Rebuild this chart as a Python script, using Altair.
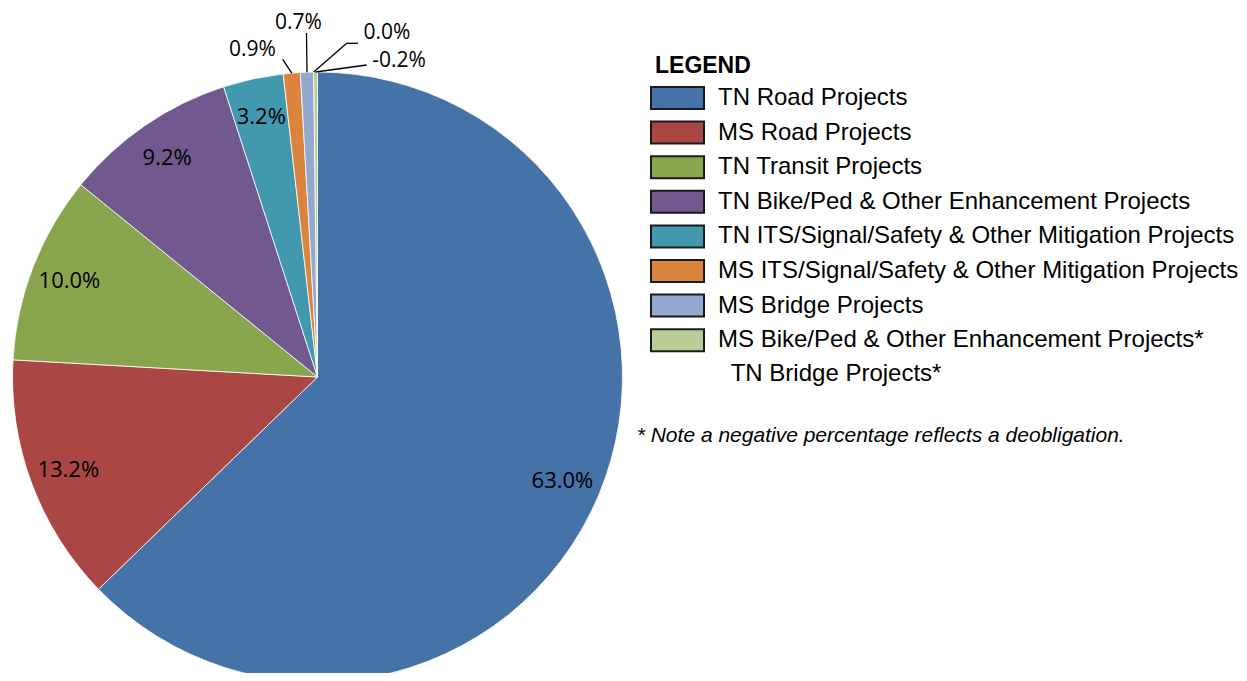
import math
import altair as alt
import pandas as pd

# ---- data ----
pie_categories = [
    "TN Road Projects",
    "MS Road Projects",
    "TN Transit Projects",
    "TN Bike/Ped & Other Enhancement Projects",
    "TN ITS/Signal/Safety & Other Mitigation Projects",
    "MS ITS/Signal/Safety & Other Mitigation Projects",
    "MS Bridge Projects",
    "TN Bridge Projects*",
    "MS Bike/Ped & Other Enhancement Projects*",
]
pie_percents = [63.0, 13.2, 10.0, 9.2, 3.2, 0.9, 0.7, 0.0, -0.2]

legend_categories = [
    "TN Road Projects",
    "MS Road Projects",
    "TN Transit Projects",
    "TN Bike/Ped & Other Enhancement Projects",
    "TN ITS/Signal/Safety & Other Mitigation Projects",
    "MS ITS/Signal/Safety & Other Mitigation Projects",
    "MS Bridge Projects",
    "MS Bike/Ped & Other Enhancement Projects*",
]
legend_colors = ["#4572A7", "#AA4643", "#89A54E", "#71588F",
                 "#4198AF", "#DB843D", "#93A9CF", "#B9CD96"]

extra_legend_text = "TN Bridge Projects*"
note_text = "* Note a negative percentage reflects a deobligation."
legend_title = "LEGEND"

# ---- layout (pixels, chart coordinates) ----
CX, CY, R = 309.5, 369.0, 305.0
R_IN = 266.0
# outside label anchors and leader-line ends for the tiny slices
outside_layout = {
    "MS ITS/Signal/Safety & Other Mitigation Projects": dict(tx=244.5, ty=41.5, ex=274.7, ey=51.3, hx=274.7),
    "MS Bridge Projects": dict(tx=290.5, ty=14.5, ex=298.5, ey=25.0, hx=298.5),
    "TN Bridge Projects*": dict(tx=379.0, ty=25.0, ex=338.7, ey=35.3, hx=350.0),
    "MS Bike/Ped & Other Enhancement Projects*": dict(tx=391.0, ty=53.0, ex=358.7, ey=57.0, hx=358.7),
}

rows = []
for i, (c, p) in enumerate(zip(pie_categories, pie_percents)):
    lay = outside_layout.get(c, {})
    rows.append(dict(
        idx=i, cat=c, pct=p, size=abs(p), label=f"{p:.1f}%",
        outside=c in outside_layout,
        tx=lay.get("tx", 0.0), ty=lay.get("ty", 0.0),
        ex=lay.get("ex", 0.0), ey=lay.get("ey", 0.0), hx=lay.get("hx", 0.0),
    ))
df = pd.DataFrame(rows)

base = alt.Chart(df).transform_joinaggregate(
    total="sum(size)"
).transform_window(
    cum="sum(size)", sort=[alt.SortField("idx")], frame=[None, 0]
).transform_calculate(
    mid=f"(datum.cum - datum.size/2) / datum.total * 2 * PI",
).transform_calculate(
    in_x=f"{CX} + {R_IN} * sin(datum.mid)",
    in_y=f"{CY} - {R_IN} * cos(datum.mid)",
    edge_x=f"{CX} + {R} * sin(datum.mid)",
    edge_y=f"{CY} - {R} * cos(datum.mid)",
)

arcs = alt.Chart(df).transform_filter("datum.size > 0").mark_arc(
    radius=R, stroke="white", strokeWidth=0.8
).encode(
    theta=alt.Theta("size:Q", stack=True),
    order=alt.Order("idx:Q"),
    color=alt.Color(
        "cat:N",
        scale=alt.Scale(domain=legend_categories, range=legend_colors),
        legend=alt.Legend(
            title=None, orient="none", legendX=657.5, legendY=78,
            direction="vertical",
            symbolType="M-2.41,-1H2.41V1H-2.41Z", symbolSize=484,
            symbolStrokeColor="#1b1b1b", symbolStrokeWidth=2, symbolOpacity=1,
            labelFont="Liberation Sans", labelFontSize=24, labelColor="#000000",
            labelOffset=28.5, labelLimit=700, rowPadding=4.6, padding=0,
        ),
    ),
    x=alt.value(CX),
    y=alt.value(CY),
)

inside_labels = base.transform_filter("!datum.outside").mark_text(
    font="Open Sans", fontSize=22, color="#000000", align="center", baseline="middle"
).encode(
    x=alt.X("in_x:Q", scale=None),
    y=alt.Y("in_y:Q", scale=None),
    text="label:N",
)

leaders = base.transform_filter("datum.outside").mark_rule(
    color="#000000", strokeWidth=1.3
).encode(
    x=alt.X("edge_x:Q", scale=None),
    y=alt.Y("edge_y:Q", scale=None),
    x2="ex:Q",
    y2="ey:Q",
)

leader_tails = base.transform_filter("datum.outside && datum.hx != datum.ex").mark_rule(
    color="#000000", strokeWidth=1.3
).encode(
    x=alt.X("ex:Q", scale=None),
    y=alt.Y("ey:Q", scale=None),
    x2="hx:Q",
    y2="ey:Q",
)

outside_labels = base.transform_filter("datum.outside").mark_text(
    font="Open Sans", fontSize=21, color="#000000", align="center", baseline="middle"
).encode(
    x=alt.X("tx:Q", scale=None),
    y=alt.Y("ty:Q", scale=None),
    text="label:N",
)

title_txt = alt.Chart(pd.DataFrame({"t": [legend_title]})).mark_text(
    font="Liberation Sans", fontSize=23, fontWeight="bold", align="left",
    baseline="alphabetic", color="#000000"
).encode(x=alt.value(647), y=alt.value(65.3), text="t:N")

extra_txt = alt.Chart(pd.DataFrame({"t": [extra_legend_text]})).mark_text(
    font="Liberation Sans", fontSize=24, align="left", baseline="alphabetic", color="#000000"
).encode(x=alt.value(722.7), y=alt.value(373), text="t:N")

note_txt = alt.Chart(pd.DataFrame({"t": [note_text]})).mark_text(
    font="Liberation Sans", fontSize=21, fontStyle="italic", align="left",
    baseline="alphabetic", color="#000000"
).encode(x=alt.value(628.7), y=alt.value(433.7), text="t:N")

chart = alt.layer(
    arcs, inside_labels, leaders, leader_tails, outside_labels,
    title_txt, extra_txt, note_txt
).properties(
    width=1231, height=665, padding=0, autosize=alt.AutoSizeParams(type="none")
).configure_view(stroke=None)

chart.save("out.html", embed_options={"renderer": "svg", "actions": False})
